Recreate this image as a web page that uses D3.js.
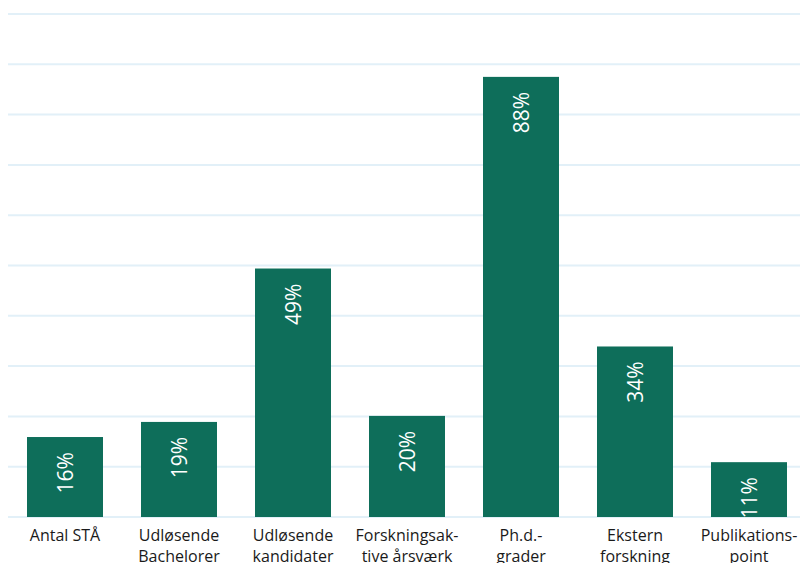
<!DOCTYPE html>
<html>
<head>
<meta charset="utf-8">
<script src="https://cdn.jsdelivr.net/npm/d3@7"></script>
<style>
  body { margin: 0; background: #fff; }
  svg { display: block; }
</style>
</head>
<body>
<svg id="chart" width="800" height="563"></svg>
<script>
const categories = [
  ["Antal STÅ"],
  ["Udløsende", "Bachelorer"],
  ["Udløsende", "kandidater"],
  ["Forskningsak-", "tive årsværk"],
  ["Ph.d.-", "grader"],
  ["Ekstern", "forskning"],
  ["Publikations-", "point"]
];
const values = [15.9, 18.9, 49.4, 20.1, 87.5, 33.9, 10.9];
const valueLabels = ["16%", "19%", "49%", "20%", "88%", "34%", "11%"];
const gridTicks = [0, 10, 20, 30, 40, 50, 60, 70, 80, 90, 100];

const svg = d3.select("#chart");
const keys = categories.map(c => c.join(" "));

const x = d3.scaleBand()
  .domain(keys)
  .range([8, 806])
  .paddingInner(1/3)
  .paddingOuter(1/6);

const y = d3.scaleLinear()
  .domain([0, 100])
  .range([517, 14]);

// gridlines
svg.append("g")
  .selectAll("line")
  .data(gridTicks)
  .join("line")
  .attr("x1", 8)
  .attr("x2", 800)
  .attr("y1", d => y(d))
  .attr("y2", d => y(d))
  .attr("stroke", "#e2f0f8")
  .attr("stroke-width", 2);

// bars
svg.append("g")
  .selectAll("rect")
  .data(values)
  .join("rect")
  .attr("x", (d, i) => x(keys[i]))
  .attr("y", d => y(d))
  .attr("width", x.bandwidth())
  .attr("height", d => y(0) - y(d))
  .attr("fill", "#0e6e5a");

// value labels (rotated)
svg.append("g")
  .selectAll("text")
  .data(values)
  .join("text")
  .attr("transform", (d, i) => {
    const cx = x(keys[i]) + x.bandwidth() / 2;
    const ty = y(d) + 15;
    return `translate(${cx},${ty}) rotate(-90)`;
  })
  .attr("text-anchor", "end")
  .attr("dy", "0.36em")
  .attr("fill", "#ffffff")
  .attr("font-family", "'Open Sans', sans-serif")
  .attr("font-size", 21)
  .text((d, i) => valueLabels[i]);

// category labels
const lab = svg.append("g")
  .selectAll("text")
  .data(categories)
  .join("text")
  .attr("x", (d, i) => x(keys[i]) + x.bandwidth() / 2)
  .attr("y", 541)
  .attr("text-anchor", "middle")
  .attr("fill", "#1a1a1a")
  .attr("font-family", "'Open Sans', sans-serif")
  .attr("font-size", 16);
lab.selectAll("tspan")
  .data(d => d)
  .join("tspan")
  .attr("x", function() { return d3.select(this.parentNode).attr("x"); })
  .attr("dy", (d, i) => i === 0 ? 0 : 21)
  .text(d => d);
</script>
</body>
</html>
